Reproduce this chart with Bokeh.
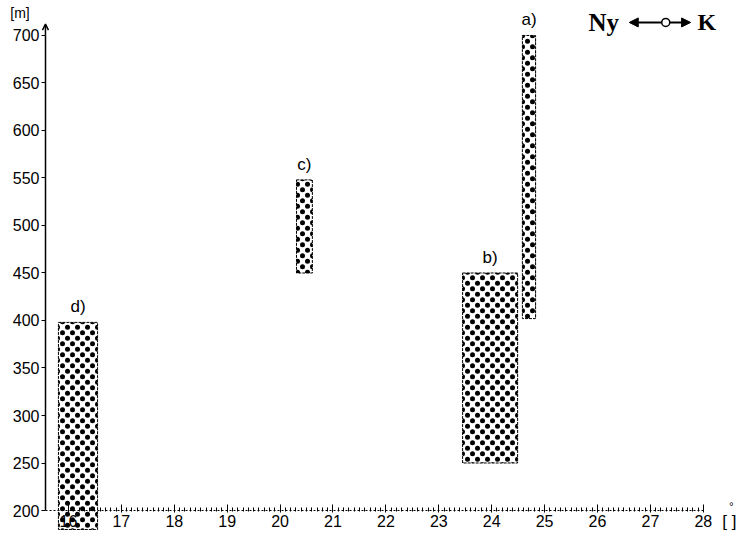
from bokeh.plotting import figure
from bokeh.models import (ColumnDataSource, Range1d, Label, Arrow, OpenHead, NormalHead,
                          FixedTicker, ImageURLTexture)
from bokeh.core.properties import value
from bokeh.embed import file_html
from bokeh.resources import INLINE

# data
names = ["a)", "b)", "c)", "d)"]
left = [24.58, 23.45, 20.31, 15.81]
right = [24.83, 24.49, 20.61, 16.55]
bottom = [402, 250, 450, 180]
top = [700, 450, 548, 398]
x_ticks = [16, 17, 18, 19, 20, 21, 22, 23, 24, 25, 26, 27, 28]
y_ticks = [200, 250, 300, 350, 400, 450, 500, 550, 600, 650, 700]

src = ColumnDataSource(dict(
    name=names, left=left, right=right, bottom=bottom, top=top,
    xc=[(l + r) / 2 for l, r in zip(left, right)],
    pat=["stag"] * len(names),
))

X0, X1 = 14.715, 28.741
Y0, Y1 = 173.7, 736.8
YAX = 15.565  # x position of the vertical axis

p = figure(width=742, height=535, output_backend="svg", toolbar_location=None,
           x_range=Range1d(X0, X1), y_range=Range1d(Y0, Y1),
           min_border_left=0, min_border_right=0, min_border_top=0, min_border_bottom=0)
p.outline_line_color = None
p.grid.visible = False
p.background_fill_color = "white"

# staggered dot texture (like the printed dot screen)
tile = ("data:image/svg+xml;utf8,<svg xmlns='http://www.w3.org/2000/svg' width='10' height='11'>"
        "<circle cx='2.5' cy='2.75' r='2.5' fill='black'/>"
        "<circle cx='7.5' cy='8.25' r='2.5' fill='black'/></svg>")
stag = ImageURLTexture(url=tile)

p.quad(left="left", right="right", bottom="bottom", top="top", source=src,
       fill_color="white", line_color="black", line_width=1, line_dash="3 1",
       hatch_pattern="pat", hatch_extra={"stag": stag}, hatch_color="black",
       hatch_scale=10, hatch_weight=2.3)

p.text(x="xc", y="top", text="name", source=src, text_align="center",
       text_baseline="bottom", y_offset=-6, text_font=value("Liberation Sans"),
       text_font_size="17px", text_color="black")

# x axis
xa = p.xaxis[0]
xa.fixed_location = 200
xa.ticker = FixedTicker(ticks=x_ticks, minor_ticks=[x_ticks[0] + i * 0.1 for i in range(121)])
xa.bounds = (YAX, 28.0)
xa.axis_line_color = "black"
xa.axis_line_dash = "2 2"
xa.major_tick_in = 6
xa.major_tick_out = 2
xa.minor_tick_in = 3
xa.minor_tick_out = 1
xa.major_tick_line_color = "black"
xa.minor_tick_line_color = "black"
xa.major_label_text_font = "Liberation Sans"
xa.major_label_text_font_size = "16px"
xa.major_label_text_color = "black"
xa.major_label_standoff = 2

# y axis
ya = p.yaxis[0]
ya.fixed_location = YAX
ya.ticker = FixedTicker(ticks=y_ticks)
ya.bounds = (200, 700)
ya.axis_line_color = "black"
ya.axis_line_width = 1.5
ya.major_tick_in = 0
ya.major_tick_out = 4
ya.minor_tick_in = 0
ya.minor_tick_out = 0
ya.major_tick_line_color = "black"
ya.major_label_text_font = "Liberation Sans"
ya.major_label_text_font_size = "16px"
ya.major_label_text_color = "black"
ya.major_label_standoff = 2

# arrow at top of y axis
p.add_layout(Arrow(x_start=YAX, y_start=700, x_end=YAX, y_end=712,
                   line_color="black", line_width=1.5,
                   end=OpenHead(size=6, line_color="black", line_width=1.5)))

# unit labels
p.add_layout(Label(x=14.90, y=715, text="[m]", text_font="Liberation Sans",
                   text_font_size="14px", text_baseline="bottom", text_color="black"))
p.add_layout(Label(x=28.36, y=188.4, text="[ ]", text_font="Liberation Sans",
                   text_font_size="17px", text_baseline="middle", text_color="black"))
p.add_layout(Label(x=28.49, y=205, text="°", text_font="Liberation Sans",
                   text_font_size="11px", text_baseline="middle", text_color="black"))

# Ny <-o-> K legend
p.add_layout(Label(x=25.83, y=713.7, text="Ny", text_font="Liberation Serif",
                   text_font_style="bold", text_font_size="25px", text_baseline="middle",
                   text_color="black"))
p.add_layout(Label(x=27.89, y=713.7, text="K", text_font="Liberation Serif",
                   text_font_style="bold", text_font_size="24px", text_baseline="middle",
                   text_color="black"))
p.add_layout(Arrow(x_start=27.22, y_start=713.7, x_end=26.60, y_end=713.7,
                   line_color="black", line_width=2,
                   end=NormalHead(size=9, fill_color="black", line_color="black")))
p.add_layout(Arrow(x_start=27.36, y_start=713.7, x_end=27.76, y_end=713.7,
                   line_color="black", line_width=2,
                   end=NormalHead(size=9, fill_color="black", line_color="black")))
p.scatter(x=[27.29], y=[713.7], size=8, marker="circle", fill_color="white",
          line_color="black", line_width=1.5)

open("out.html", "w").write(file_html(p, INLINE))
